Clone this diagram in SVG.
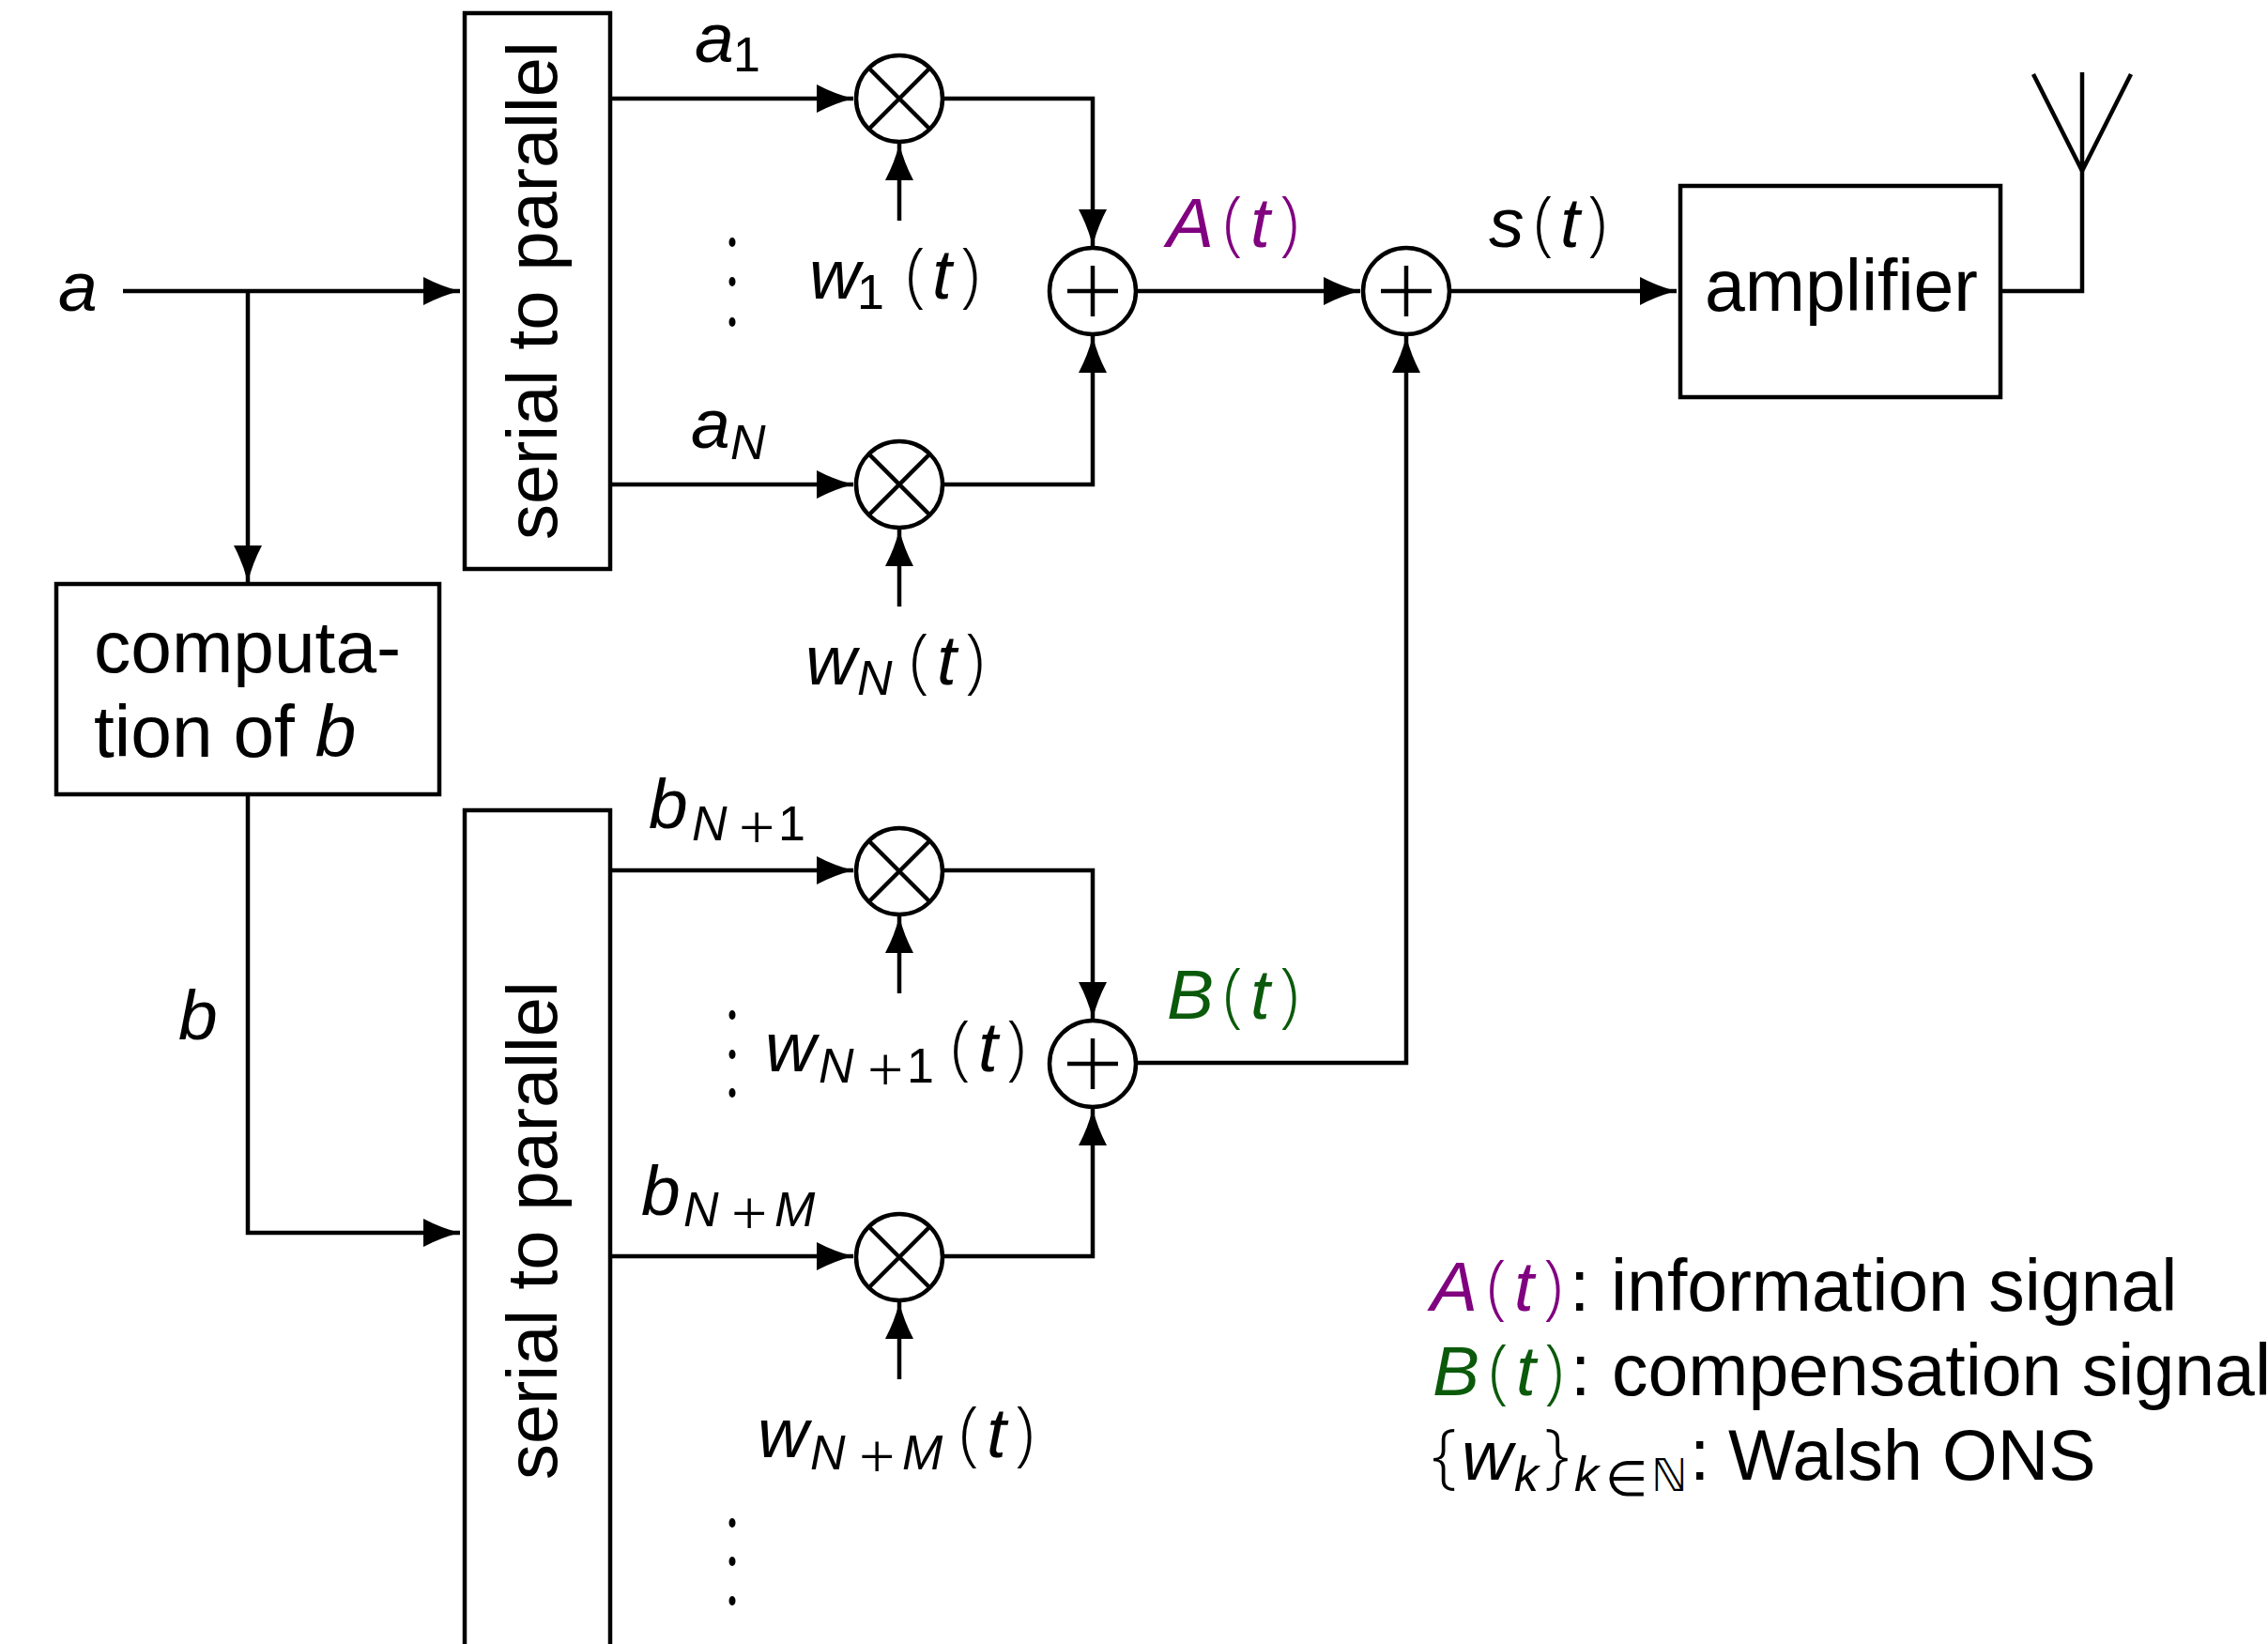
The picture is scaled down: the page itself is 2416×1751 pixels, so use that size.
<svg xmlns="http://www.w3.org/2000/svg" width="2416" height="1751" viewBox="0 0 2416 1751">
<style>
text{font-family:"Liberation Sans",Arial,sans-serif;font-size:77px;fill:#000}
.m{font-style:italic;font-size:75px}
.s{font-style:italic;font-size:52px}
.u{font-style:normal;font-size:52px}
.p{font-family:"Open Sans","Liberation Sans",sans-serif;font-size:76px;font-weight:300}
.q{font-family:"Liberation Serif","Times New Roman",serif;font-size:68px}
.purple{fill:#800080}
.green{fill:#0b5a0b}
.box,.c{fill:#fff;stroke:#000;stroke-width:4.5}
.x{fill:none;stroke:#000;stroke-width:4.5}
.l{fill:none;stroke:#000;stroke-width:4.5;marker-end:url(#h)}
.n{fill:none;stroke:#000;stroke-width:4.5}
.d{fill:#000}
</style>
<defs>
<marker id="h" markerUnits="userSpaceOnUse" markerWidth="44" markerHeight="32" refX="40" refY="15" orient="auto" overflow="visible">
<path d="M1,0 Q20,10 40,15 Q20,20 1,30 Z" fill="#000"/>
</marker>
<g id="mul"><circle class="c" r="46"/><path class="x" d="M-33,-33L33,33M-33,33L33,-33"/></g>
<g id="add"><circle class="c" r="46"/><path class="x" d="M-27,0H27M0,-27V27"/></g>
</defs>
<g id="connectors">
<path class="l" d="M131,310H490"/>
<path class="l" d="M264,310V620"/>
<path class="l" d="M264,846V1313H490"/>
<path class="l" d="M650,105H909"/>
<path class="l" d="M650,516H909"/>
<path class="l" d="M650,927H909"/>
<path class="l" d="M650,1338H909"/>
<path class="l" d="M958,235V153"/>
<path class="l" d="M958,646V564"/>
<path class="l" d="M958,1058V976"/>
<path class="l" d="M958,1469V1387"/>
<path class="l" d="M1004,105H1164V262"/>
<path class="l" d="M1004,516H1164V358"/>
<path class="l" d="M1004,927H1164V1085"/>
<path class="l" d="M1004,1338H1164V1181"/>
<path class="l" d="M1210,310H1449"/>
<path class="l" d="M1544,310H1786"/>
<path class="l" d="M1210,1132H1498V358"/>
<path class="n" d="M2131,310H2218V182"/>
</g>
<g id="a-label"><text class="m" x="62" y="331">a</text></g>
<g id="serial-1"><rect class="box" x="495" y="14" width="155" height="592"/><text transform="translate(593 575) rotate(-90)" style="font-size:75.8px">serial to parallel</text></g>
<g id="computation"><rect class="box" x="60" y="622" width="408" height="224"/><text x="100" y="716" style="font-size:78.5px">computa-</text><text x="100" y="806" style="font-size:78.5px">tion of <tspan class="m" style="font-size:78.5px">b</tspan></text></g>
<g id="serial-2"><rect class="box" x="495" y="863" width="155" height="950"/><text transform="translate(593 1576) rotate(-90)" style="font-size:75.8px">serial to parallel</text></g>
<g id="mul-1"><use href="#mul" x="958" y="105"/></g>
<g id="mul-2"><use href="#mul" x="958" y="516"/></g>
<g id="mul-3"><use href="#mul" x="958" y="928"/></g>
<g id="mul-4"><use href="#mul" x="958" y="1339"/></g>
<g id="add-1"><use href="#add" x="1164" y="310"/></g>
<g id="add-2"><use href="#add" x="1164" y="1133"/></g>
<g id="add-3"><use href="#add" x="1498" y="310"/></g>
<g id="amplifier"><rect class="box" x="1790" y="198" width="341" height="225"/><text x="1816" y="331">amplifier</text></g>
<g id="antenna"><path class="n" d="M2166,79L2218,182L2270,79M2218,77V182"/></g>
<g id="dots">
<ellipse class="d" cx="780" cy="258" rx="3.5" ry="5"/><ellipse class="d" cx="780" cy="300" rx="3.5" ry="5"/><ellipse class="d" cx="780" cy="343" rx="3.5" ry="5"/>
<ellipse class="d" cx="780" cy="1081" rx="3.5" ry="5"/><ellipse class="d" cx="780" cy="1123" rx="3.5" ry="5"/><ellipse class="d" cx="780" cy="1164" rx="3.5" ry="5"/>
<ellipse class="d" cx="780" cy="1622" rx="3.5" ry="5"/><ellipse class="d" cx="780" cy="1663" rx="3.5" ry="5"/><ellipse class="d" cx="780" cy="1705" rx="3.5" ry="5"/>
</g>
<g id="labels">
<text class="m" x="740" y="66">a</text><text class="u" x="781" y="76">1</text>
<text class="m" x="736" y="477">a</text><text class="s" x="778" y="489">N</text>
<text class="m" x="862" y="318">w</text><text class="u" x="913" y="329">1</text><text class="p" x="965" y="318">(</text><text class="m" x="993" y="318">t</text><text class="p" x="1023" y="318">)</text>
<text class="m" x="858" y="729">w</text><text class="s" x="913" y="740">N</text><text class="p" x="969" y="729">(</text><text class="m" x="998" y="729">t</text><text class="p" x="1028" y="729">)</text>
<text class="m" x="691" y="882">b</text><text class="s" x="737" y="895">N</text><text class="q" x="787" y="904">+</text><text class="u" x="829" y="895">1</text>
<text class="m" x="683" y="1294">b</text><text class="s" x="728" y="1306">N</text><text class="q" x="779" y="1315">+</text><text class="s" x="825" y="1306">M</text>
<text class="m" x="815" y="1141">w</text><text class="s" x="872" y="1153">N</text><text class="q" x="924" y="1162">+</text><text class="u" x="966" y="1153">1</text><text class="p" x="1013" y="1141">(</text><text class="m" x="1042" y="1141">t</text><text class="p" x="1072" y="1141">)</text>
<text class="m" x="807" y="1552">w</text><text class="s" x="863" y="1565">N</text><text class="q" x="915" y="1574">+</text><text class="s" x="961" y="1565">M</text><text class="p" x="1022" y="1552">(</text><text class="m" x="1051" y="1552">t</text><text class="p" x="1081" y="1552">)</text>
<text class="m" x="190" y="1107">b</text>
<text class="m purple" x="1243" y="263">A</text><text class="p purple" x="1303" y="263">(</text><text class="m purple" x="1332" y="263">t</text><text class="p purple" x="1363" y="263">)</text>
<text class="m green" x="1243" y="1085">B</text><text class="p green" x="1303" y="1085">(</text><text class="m green" x="1332" y="1085">t</text><text class="p green" x="1363" y="1085">)</text>
<text class="m" x="1586" y="263">s</text><text class="p" x="1634" y="263">(</text><text class="m" x="1662" y="263">t</text><text class="p" x="1691" y="263">)</text>
</g>
<g id="legend">
<text class="m purple" x="1524" y="1396">A</text><text class="p purple" x="1584" y="1396">(</text><text class="m purple" x="1613" y="1396">t</text><text class="p purple" x="1644" y="1396">)</text><text x="1672" y="1396">:</text><text x="1716" y="1396">information signal</text>
<text class="m green" x="1526" y="1486">B</text><text class="p green" x="1586" y="1486">(</text><text class="m green" x="1615" y="1486">t</text><text class="p green" x="1645" y="1486">)</text><text x="1673" y="1486">:</text><text x="1717" y="1486">compensation signal</text>
<text class="p" x="1525" y="1576">{</text><text class="m" x="1557" y="1576">w</text><text class="s" x="1613" y="1588">k</text><text class="p" x="1645" y="1576">}</text><text class="s" x="1677" y="1588">k</text><text class="q" x="1710" y="1593" style="font-size:52px">∈</text><text style="font-family:'DejaVu Sans',sans-serif;font-size:48px" x="1759" y="1588">ℕ</text><text x="1800" y="1576">:</text><text x="1841" y="1576" style="font-size:75.5px">Walsh ONS</text>
</g>
</svg>
